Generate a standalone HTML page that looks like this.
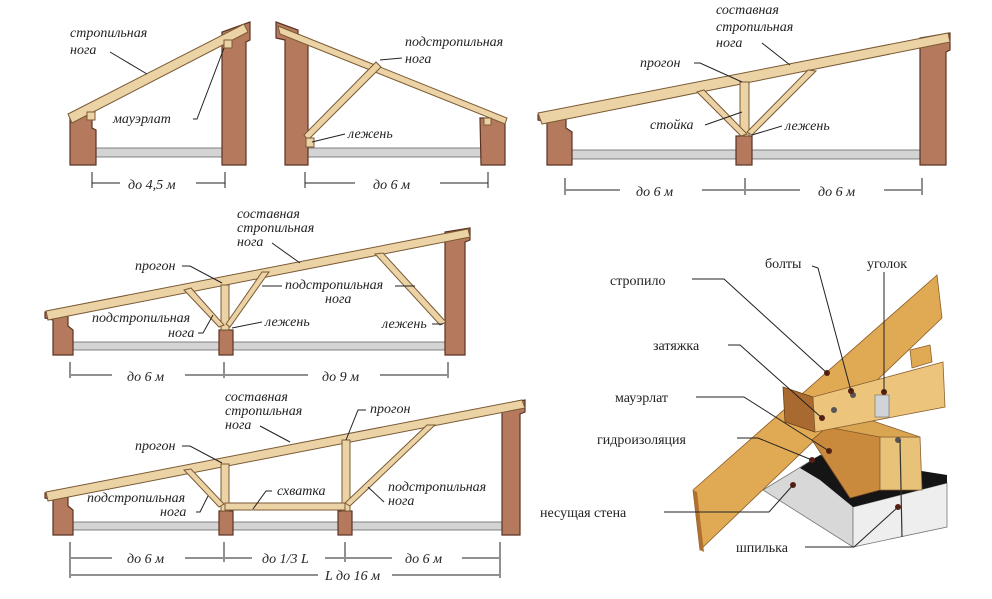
<!DOCTYPE html>
<html><head><meta charset="utf-8"><style>
html,body{margin:0;padding:0;background:#fff;}
svg{display:block}
.l{font-family:"Liberation Serif",serif;font-style:italic;font-size:14px;fill:#222}
.r{font-family:"Liberation Serif",serif;font-size:14px;fill:#222}
.w{fill:#b57a5e;stroke:#5a3322;stroke-width:1.2}
.raf{fill:#ecd3a5;stroke:#7a5a35;stroke-width:1}
.fl{fill:#d4d4d4;stroke:#666;stroke-width:.8}
.ln{stroke:#222;stroke-width:1;fill:none}
</style></head><body>
<svg width="992" height="599" viewBox="0 0 992 599" xmlns="http://www.w3.org/2000/svg">
<!-- Diagram 1 -->
<rect class="fl" x="92" y="148" width="132" height="9"/>
<polygon class="w" points="70,116 92,116 92,128 96,130 96,165 70,165"/>
<polygon class="w" points="250,22 250,40 246,42 246,165 222,165 222,32"/>
<polygon class="raf" points="68,114 244,24 248,32 72,123"/>
<rect class="raf" x="87" y="112" width="8" height="8"/><rect class="raf" x="224" y="40" width="8" height="8"/>
<line class="ln" x1="92" y1="172" x2="92" y2="188"/><line class="ln" x1="225" y1="172" x2="225" y2="188"/>
<line class="ln" x1="92" y1="183" x2="120" y2="183"/><line class="ln" x1="196" y1="183" x2="225" y2="183"/>
<text class="l" x="128" y="189">до 4,5 м</text>
<text class="l" x="70" y="37">стропильная</text><text class="l" x="70" y="54">нога</text>
<line class="ln" x1="110" y1="52" x2="147" y2="74"/>
<text class="l" x="113" y="123">мауэрлат</text>
<polyline class="ln" points="193,119 197,119 224,48"/>
<!-- Diagram 2 -->
<rect class="fl" x="308" y="148" width="175" height="9"/>
<polygon class="w" points="276,22 298,30 298,40 308,42 308,165 285,165 285,40 276,38"/>
<polygon class="w" points="480,118 505,118 505,165 481,165"/>
<polygon class="raf" points="278,26 507,118 505,124 280,34"/>
<polygon class="raf" points="304,135 376,62 381,67 308,140"/>
<rect class="raf" x="306" y="138" width="8" height="9"/><rect class="raf" x="484" y="118" width="7" height="7"/>
<line class="ln" x1="305" y1="172" x2="305" y2="188"/><line class="ln" x1="488" y1="172" x2="488" y2="188"/>
<line class="ln" x1="305" y1="183" x2="355" y2="183"/><line class="ln" x1="440" y1="183" x2="488" y2="183"/>
<text class="l" x="373" y="189">до 6 м</text>
<text class="l" x="405" y="46">подстропильная</text><text class="l" x="405" y="63">нога</text>
<line class="ln" x1="380" y1="60" x2="402" y2="58"/>
<text class="l" x="348" y="138">лежень</text>
<line class="ln" x1="312" y1="142" x2="345" y2="134"/>
<!-- Diagram 3 -->
<rect class="fl" x="568" y="150" width="355" height="9"/>
<polygon class="w" points="538,115 566,115 566,128 572,132 572,165 547,165 547,122 538,120"/>
<rect class="w" x="736" y="136" width="16" height="29"/>
<polygon class="w" points="950,33 950,50 946,52 946,165 920,165 920,38"/>
<polygon class="raf" points="538,113 948,33 950,42 542,124"/>
<rect class="raf" x="740" y="82" width="9" height="54"/>
<polygon class="raf" points="697,92 704,90 747,134 741,136"/>
<polygon class="raf" points="808,70 816,71 752,135 747,132"/>
<line class="ln" x1="565" y1="178" x2="565" y2="195"/><line class="ln" x1="745" y1="178" x2="745" y2="195"/><line class="ln" x1="922" y1="178" x2="922" y2="195"/>
<line class="ln" x1="566" y1="190" x2="620" y2="190"/><line class="ln" x1="702" y1="190" x2="744" y2="190"/>
<line class="ln" x1="746" y1="190" x2="800" y2="190"/><line class="ln" x1="884" y1="190" x2="921" y2="190"/>
<text class="l" x="636" y="196">до 6 м</text><text class="l" x="818" y="196">до 6 м</text>
<text class="l" x="716" y="14">составная</text><text class="l" x="716" y="31">стропильная</text><text class="l" x="716" y="47">нога</text>
<line class="ln" x1="762" y1="43" x2="790" y2="65"/>
<text class="l" x="640" y="67">прогон</text><polyline class="ln" points="694,63 700,63 742,82"/>
<text class="l" x="650" y="129">стойка</text><line class="ln" x1="705" y1="125" x2="742" y2="112"/>
<text class="l" x="785" y="130">лежень</text><line class="ln" x1="782" y1="126" x2="752" y2="135"/>
<!-- Diagram 4 -->
<rect class="fl" x="72" y="342" width="375" height="8"/>
<polygon class="w" points="45,312 68,312 68,326 73,330 73,355 53,355 53,320 45,318"/>
<rect class="w" x="219" y="330" width="14" height="25"/>
<polygon class="w" points="470,228 470,240 465,242 465,355 445,355 445,232"/>
<polygon class="raf" points="46,311 468,229 470,237 48,320"/>
<rect class="raf" x="221" y="285" width="8" height="45"/>
<polygon class="raf" points="184,290 191,288 224,325 219,327"/>
<polygon class="raf" points="262,272 269,272 230,327 226,324"/>
<polygon class="raf" points="375,254 383,253 446,322 440,325"/>
<line class="ln" x1="70" y1="362" x2="70" y2="378"/><line class="ln" x1="224" y1="362" x2="224" y2="378"/><line class="ln" x1="448" y1="362" x2="448" y2="378"/>
<line class="ln" x1="71" y1="375" x2="112" y2="375"/><line class="ln" x1="185" y1="375" x2="223" y2="375"/>
<line class="ln" x1="225" y1="375" x2="308" y2="375"/><line class="ln" x1="380" y1="375" x2="447" y2="375"/>
<text class="l" x="127" y="381">до 6 м</text><text class="l" x="322" y="381">до 9 м</text>
<text class="l" x="237" y="218">составная</text><text class="l" x="237" y="232">стропильная</text><text class="l" x="237" y="246">нога</text>
<line class="ln" x1="272" y1="243" x2="300" y2="263"/>
<text class="l" x="135" y="270">прогон</text><polyline class="ln" points="182,266 190,266 222,283"/>
<text class="l" x="285" y="289">подстропильная</text><text class="l" x="325" y="303">нога</text>
<line class="ln" x1="262" y1="286" x2="282" y2="286"/><line class="ln" x1="395" y1="286" x2="415" y2="286"/>
<text class="l" x="92" y="322">подстропильная</text><text class="l" x="168" y="337">нога</text>
<polyline class="ln" points="198,333 203,333 213,315"/>
<text class="l" x="265" y="326">лежень</text><line class="ln" x1="262" y1="322" x2="232" y2="328"/>
<text class="l" x="382" y="328">лежень</text><line class="ln" x1="432" y1="324" x2="443" y2="324"/>
<!-- Diagram 5 -->
<rect class="fl" x="72" y="522" width="432" height="8"/>
<polygon class="w" points="45,493 68,493 68,506 73,510 73,535 53,535 53,500 45,498"/>
<rect class="w" x="219" y="511" width="14" height="24"/><rect class="w" x="338" y="511" width="14" height="24"/>
<polygon class="w" points="525,400 525,412 520,414 520,535 502,535 502,405"/>
<polygon class="raf" points="46,492 522,400 525,408 48,501"/>
<rect class="raf" x="221" y="464" width="8" height="47"/><rect class="raf" x="342" y="440" width="8" height="71"/>
<rect class="raf" x="225" y="503" width="120" height="7"/>
<polygon class="raf" points="184,470 191,469 224,504 219,507"/>
<polygon class="raf" points="427,425 435,425 350,506 345,503"/>
<line class="ln" x1="70" y1="542" x2="70" y2="578"/><line class="ln" x1="224" y1="542" x2="224" y2="562"/><line class="ln" x1="345" y1="542" x2="345" y2="562"/><line class="ln" x1="500" y1="542" x2="500" y2="578"/>
<line class="ln" x1="71" y1="558" x2="112" y2="558"/><line class="ln" x1="185" y1="558" x2="223" y2="558"/>
<line class="ln" x1="225" y1="558" x2="252" y2="558"/><line class="ln" x1="325" y1="558" x2="344" y2="558"/>
<line class="ln" x1="346" y1="558" x2="392" y2="558"/><line class="ln" x1="462" y1="558" x2="499" y2="558"/>
<line class="ln" x1="71" y1="575" x2="318" y2="575"/><line class="ln" x1="392" y1="575" x2="499" y2="575"/>
<text class="l" x="127" y="563">до 6 м</text><text class="l" x="262" y="563">до 1/3 L</text><text class="l" x="405" y="563">до 6 м</text>
<text class="l" x="325" y="580">L до 16 м</text>
<text class="l" x="225" y="401">составная</text><text class="l" x="225" y="415">стропильная</text><text class="l" x="225" y="429">нога</text>
<line class="ln" x1="260" y1="426" x2="290" y2="442"/>
<text class="l" x="370" y="413">прогон</text><polyline class="ln" points="366,410 358,410 346,440"/>
<text class="l" x="135" y="450">прогон</text><polyline class="ln" points="182,446 190,446 222,463"/>
<text class="l" x="277" y="495">схватка</text><polyline class="ln" points="272,491 266,491 253,509"/>
<text class="l" x="87" y="502">подстропильная</text><text class="l" x="160" y="516">нога</text>
<polyline class="ln" points="196,512 200,512 208,496"/>
<text class="l" x="388" y="491">подстропильная</text><text class="l" x="388" y="505">нога</text>
<line class="ln" x1="384" y1="502" x2="368" y2="487"/>
<!-- Detail -->
<polygon fill="#d8d8d8" stroke="#777" stroke-width=".8" points="763,490 817,457 853,507 853,547"/>
<polygon fill="#eeeeee" stroke="#777" stroke-width=".8" points="853,507 947,483 947,527 853,547"/>
<polygon fill="#151515" points="800,468 820,455 947,475 947,483 853,507 820,480"/>
<polygon fill="#e0aa55" stroke="#8a5a25" stroke-width=".8" points="693,490 937,275 942,318 700,550"/>
<polygon fill="#b07030" points="693,490 697,492 704,552 700,550"/>
<polygon fill="#c98a3e" stroke="#7a4a20" stroke-width=".8" points="812,440 827,427 880,437 880,490 850,498"/>
<polygon fill="#e9c27a" stroke="#8a6030" stroke-width=".8" points="880,437 920,437 922,490 880,490"/>
<polygon fill="#d9a550" stroke="#8a6030" stroke-width=".8" points="827,427 870,420 920,437 880,437"/>
<polygon fill="#a86a30" stroke="#6a4018" stroke-width=".8" points="783,387 813,397 815,432 785,422"/>
<polygon fill="#ecc47c" stroke="#8a6030" stroke-width=".8" points="813,397 943,362 945,407 815,432"/>
<polygon fill="#e0aa55" stroke="#8a6030" stroke-width=".8" points="910,350 930,345 932,362 912,368"/>
<rect x="875" y="395" width="14" height="22" fill="#d0d4d8" stroke="#666" stroke-width=".6"/>
<circle cx="834" cy="410" r="3" fill="#555"/><circle cx="853" cy="395" r="3" fill="#555"/><circle cx="898" cy="440" r="3" fill="#555"/>
<line x1="900" y1="440" x2="902" y2="537" stroke="#333" stroke-width="1.2"/>
<g fill="#5a1f10"><circle cx="827" cy="373" r="3"/><circle cx="851" cy="391" r="3"/><circle cx="884" cy="392" r="3"/><circle cx="822" cy="418" r="3"/><circle cx="829" cy="451" r="3"/><circle cx="812" cy="460" r="3"/><circle cx="793" cy="485" r="3"/><circle cx="898" cy="507" r="3"/></g>
<g class="ln" stroke="#333">
<polyline points="692,279 724,279 827,373"/>
<polyline points="812,266 818,268 851,391"/>
<line x1="884" y1="272" x2="884" y2="392"/>
<polyline points="728,345 740,345 822,418"/>
<polyline points="696,397 744,397 829,451"/>
<polyline points="737,438 758,438 812,460"/>
<polyline points="664,512 769,512 793,485"/>
<polyline points="805,547 854,547 898,507"/>
</g>
<text class="r" x="610" y="285">стропило</text>
<text class="r" x="765" y="268">болты</text>
<text class="r" x="867" y="268">уголок</text>
<text class="r" x="653" y="350">затяжка</text>
<text class="r" x="615" y="402">мауэрлат</text>
<text class="r" x="597" y="444">гидроизоляция</text>
<text class="r" x="540" y="517">несущая стена</text>
<text class="r" x="736" y="552">шпилька</text>
</svg>
</body></html>
